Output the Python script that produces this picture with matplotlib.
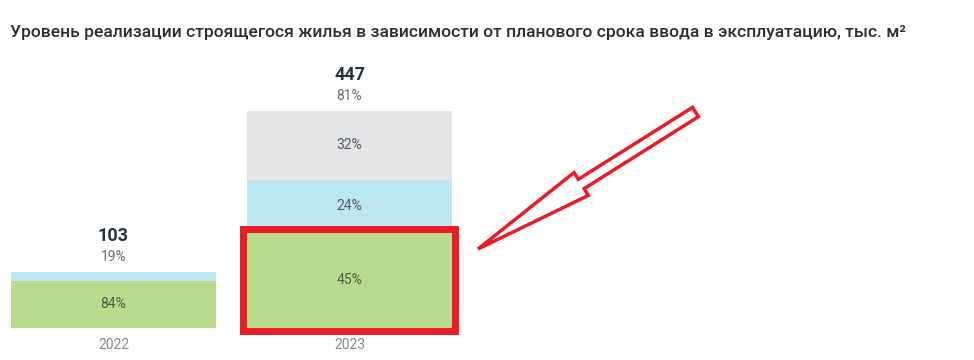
import matplotlib
matplotlib.use("Agg")
import matplotlib.pyplot as plt
from matplotlib.patches import Rectangle, FancyArrow

plt.rcParams['font.family'] = ['Roboto', 'DejaVu Sans']

# данные
years = ['2022', '2023']
totals = ['103', '447']
shares = ['19%', '81%']
green_vals = [97, 198]
blue_vals = [18, 107]
gray_vals = [0, 142]
green_lbl = ['84%', '45%']
blue_lbl = ['', '24%']
gray_lbl = ['', '32%']

c_green = '#b9dc8c'
c_blue = '#bce6f1'
c_gray = '#e4e5e7'
c_red = '#ec1c24'

fig = plt.figure(figsize=(9.74, 3.6), dpi=100)
ax = fig.add_axes([0, 0, 1, 1])

w = 205 / 236
x = range(len(years))
ax.bar(x, green_vals, width=w, color=c_green)
ax.bar(x, blue_vals, width=w, bottom=green_vals, color=c_blue)
tops_b = [g + b for g, b in zip(green_vals, blue_vals)]
ax.bar(x, gray_vals, width=w, bottom=tops_b, color=c_gray)
tops = [t + g for t, g in zip(tops_b, gray_vals)]

ax.set_xlim(-113.5 / 236, (974 - 113.5) / 236)
ax.set_ylim(-32 / 0.4855, (360 - 32) / 0.4855)
ax.axis('off')

for i in x:
    ax.text(i, green_vals[i] / 2, green_lbl[i], ha='center', va='center',
            fontsize=10, color='#4d5a48')
    if blue_lbl[i]:
        ax.text(i, green_vals[i] + blue_vals[i] / 2, blue_lbl[i], ha='center',
                va='center', fontsize=10, color='#4f5a60')
    if gray_lbl[i]:
        ax.text(i, tops_b[i] + gray_vals[i] / 2, gray_lbl[i], ha='center',
                va='center', fontsize=10, color='#555a60')
    ax.annotate(totals[i], (i, tops[i]), xytext=(0, 26), textcoords='offset points',
                ha='center', va='center', fontsize=13, fontweight='bold', color='#27323d')
    ax.annotate(shares[i], (i, tops[i]), xytext=(0, 11), textcoords='offset points',
                ha='center', va='center', fontsize=10, color='#6b6e72')
    ax.annotate(years[i], (i, 0), xytext=(0, -12.5), textcoords='offset points',
                ha='center', va='center', fontsize=10, color='#85888c')

# красная рамка вокруг сегмента 2023
pad_x = 3.5 / 236
pad_y = 3 / 0.4855
ax.add_patch(Rectangle((1 - w / 2 - pad_x, -pad_y), w + 2 * pad_x, green_vals[1] + 2 * pad_y,
                       fill=False, edgecolor=c_red, linewidth=5, zorder=5))

# стрелка (в пикселях)
ov = fig.add_axes([0, 0, 1, 1])
ov.set_xlim(0, 974)
ov.set_ylim(360, 0)
ov.axis('off')
ov.add_patch(FancyArrow(695.5, 112, 478 - 695.5, 249 - 112, width=11, head_width=27,
                        head_length=122, length_includes_head=True, fill=False,
                        edgecolor=c_red, linewidth=2.5, joinstyle='miter'))

fig.text(10 / 974, 1 - 33 / 360, 'Уровень реализации строящегося жилья в зависимости от планового срока ввода в эксплуатацию, тыс. м²',
         ha='left', va='center', fontsize=12.6, fontweight='medium', color='#2b2f33')

fig.savefig('out.png', dpi=100)
